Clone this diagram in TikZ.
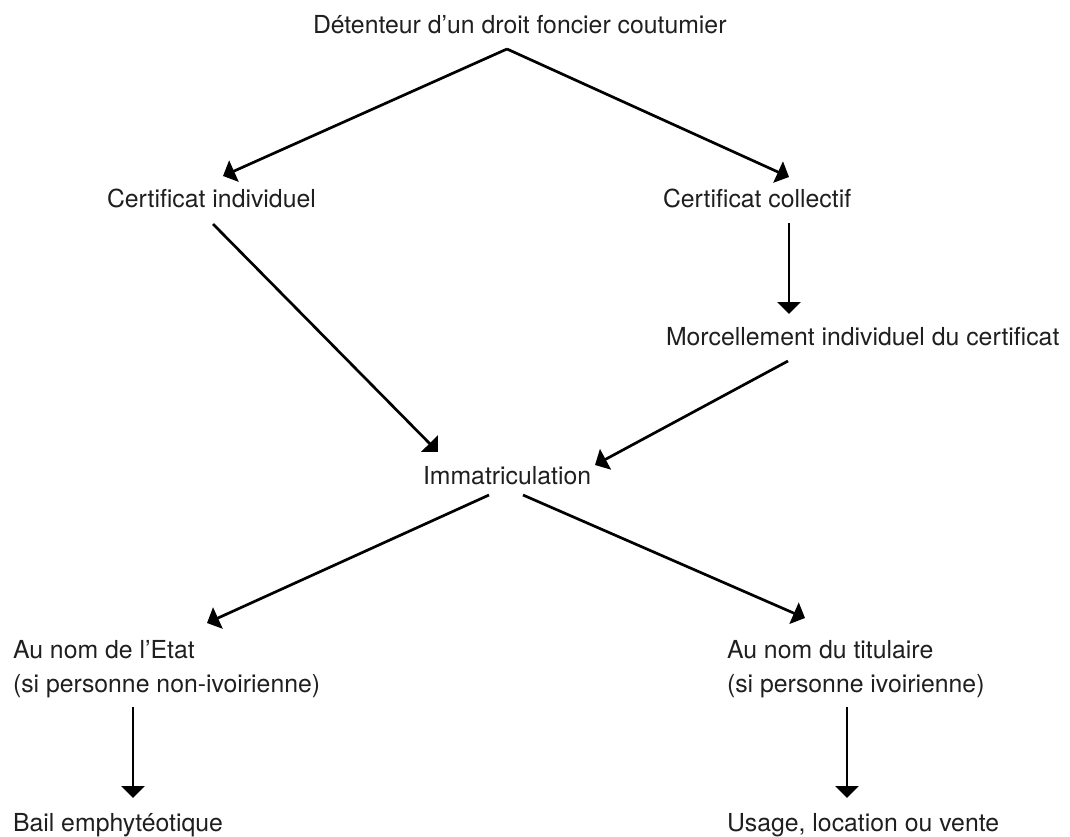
\documentclass[tikz,border=0pt]{standalone}
\usepackage{fontspec}
\setmainfont{TeX Gyre Heros}
\usetikzlibrary{arrows.meta,calc}
\tikzset{
  lbl/.style={anchor=base west, inner sep=0pt, outer sep=0pt, text=black!88,
    font=\fontsize{24.8}{30}\selectfont},
  arr/.style={line width=2.7pt, draw=black, -{Triangle[length=12pt,width=23pt]}}
}
\begin{document}
\begin{tikzpicture}[x=1pt,y=-1pt]
\useasboundingbox (0,0) rectangle (1070,836);
\node[lbl] (top) at (313,33) {Détenteur d’un droit foncier coutumier};
\node[lbl] (ci) at (107,207) {Certificat individuel};
\node[lbl] (cc) at (663,207) {Certificat collectif};
\node[lbl] (mo) at (666,345) {Morcellement individuel du certificat};
\node[lbl] (im) at (423,484) {Immatriculation};
\node[lbl] (etat1) at (13,658) {Au nom de l’Etat};
\node[lbl] (etat2) at (13,692) {(si personne non-ivoirienne)};
\node[lbl] (bail) at (13,831) {Bail emphytéotique};
\node[lbl] (tit1) at (727,658) {Au nom du titulaire};
\node[lbl] (tit2) at (727,692) {(si personne ivoirienne)};
\node[lbl] (usage) at (727,831) {Usage, location ou vente};

\draw[arr] ($(top.base west)+(194,16)$) -- ($(ci.base west)+(116,-31)$);
\draw[arr] ($(top.base west)+(194,16)$) -- ($(cc.base west)+(126,-30)$);
\draw[arr] ($(ci.base west)+(106,17)$) -- ($(im.base west)+(15,-32)$);
\draw[arr] ($(cc.base west)+(126,16)$) -- ($(mo.base west)+(123,-31)$);
\draw[arr] ($(mo.base west)+(122,16)$) -- ($(im.base west)+(172,-19)$);
\draw[arr] ($(im.base west)+(66,11)$) -- ($(etat1.base west)+(194,-35)$);
\draw[arr] ($(im.base west)+(100,11)$) -- ($(tit1.base west)+(78,-40)$);
\draw[arr] ($(etat2.base west)+(120,15)$) -- ($(bail.base west)+(120,-33)$);
\draw[arr] ($(tit2.base west)+(120,15)$) -- ($(usage.base west)+(120,-33)$);
\end{tikzpicture}
\end{document}
